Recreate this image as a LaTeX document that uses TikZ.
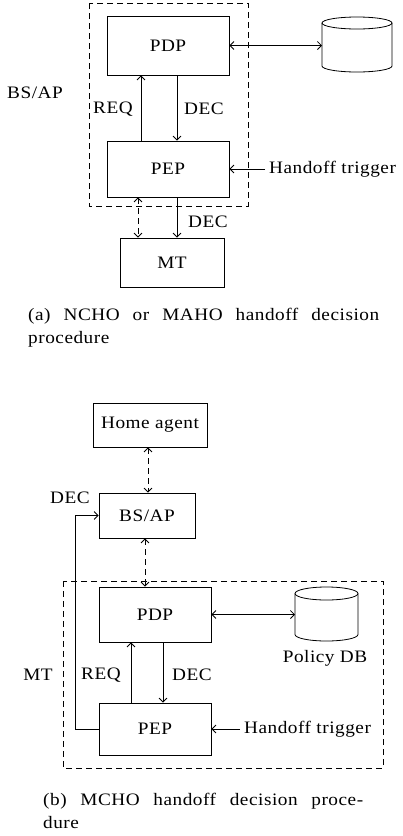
\documentclass[tikz,border=0pt]{standalone}
\usepackage{fontspec}
\setmainfont[FakeStretch=1.1,LetterSpace=3]{Liberation Serif}
\usetikzlibrary{arrows.meta}
% database drum: (centre x, top y, bottom y)(x radius:y radius)
\def\drum(#1,#2,#3)(#4:#5){\draw[line width=0.8pt] (#1,#2) ellipse [x radius=#4, y radius=#5];
  \draw[line width=0.8pt] (#1-#4,#2) -- (#1-#4,#3) arc[start angle=180, end angle=0, x radius=#4, y radius=#5] -- (#1+#4,#2);}

\tikzset{
  blk/.style={draw, line width=0.8pt, inner sep=0pt},
  lbl/.style={inner sep=1pt},
  arr/.style={line width=0.8pt, -{Straight Barb[length=4pt,width=8pt]}},
  darr/.style={line width=0.8pt, {Straight Barb[length=4pt,width=8pt]}-{Straight Barb[length=4pt,width=8pt]}},
  frame/.style={line width=0.8pt, dash pattern=on 6pt off 4pt},
}

\begin{document}
\begin{tikzpicture}[x=1pt, y=-1pt, font=\fontsize{17.5}{23}\selectfont]
  \useasboundingbox (0,0) rectangle (403,836);

  %%%%% (a) %%%%%
  \draw[frame] (89,3) rectangle (248,206);
  \node[blk, minimum width=122, minimum height=59] (pdpa) at (168,45.5) {PDP};
  \node[blk, minimum width=122, minimum height=56] (pepa) at (168,169) {PEP};
  \node[blk, minimum width=104, minimum height=49] (mta) at (172,262.5) {MT};
  \drum(357,23,66)(35:6)
  \coordinate (dba) at (322,45.5);

  \node[lbl] (bsapa) at (35,93) {BS/AP};
  \node[lbl] (reqa) at (113,109) {REQ};
  \node[lbl] (deca) at (204,109) {DEC};
  \node[lbl] (decma) at (208,222) {DEC};
  \node[lbl, anchor=west, inner sep=4pt] (triga) at (265,169) {Handoff trigger};

  \draw[darr] (pdpa.east) -- (dba);
  \draw[arr] ([xshift=-27pt]pepa.north) -- ([xshift=-27pt]pdpa.south);
  \draw[arr] ([xshift=9pt]pdpa.south) -- ([xshift=9pt]pepa.north);
  \draw[arr] (triga.west) -- (pepa.east);
  \draw[darr, frame] ([xshift=-30pt]pepa.south) -- ([xshift=-30pt]pepa.south |- mta.north);
  \draw[arr] ([xshift=9pt]pepa.south) -- ([xshift=9pt]pepa.south |- mta.north);

  \node[anchor=north west, inner sep=0pt, text width=351pt, align=justify] (capa) at (28,308)
    {(a) NCHO or MAHO handoff decision\linebreak procedure};

  %%%%% (b) %%%%%
  \node[blk, minimum width=114, minimum height=44] (ha) at (150,425) {Home agent};
  \node[blk, minimum width=96, minimum height=45] (bsap) at (147,515.5) {BS/AP};
  \draw[frame] (63,581) rectangle (383,768);
  \node[blk, minimum width=112, minimum height=55] (pdpb) at (155,614.5) {PDP};
  \node[blk, minimum width=112, minimum height=52] (pepb) at (155,729) {PEP};
  \drum(326.5,593.5,634.5)(31.5:6.5)
  \coordinate (dbb) at (295,614.5);

  \node[lbl] (polb) at (325,658) {Policy DB};
  \node[lbl] (mtb) at (38,675) {MT};
  \node[lbl] (reqb) at (101,675) {REQ};
  \node[lbl] (decb) at (192,675) {DEC};
  \node[lbl] (dectop) at (70,498) {DEC};
  \node[lbl, anchor=west, inner sep=4pt] (trigb) at (240,729) {Handoff trigger};

  \draw[darr, frame] ([xshift=-2pt]ha.south) -- ([xshift=-2pt]ha.south |- bsap.north);
  \draw[darr, frame] ([xshift=-2pt]bsap.south) -- ([xshift=-2pt]bsap.south |- pdpb.north);
  \draw[darr] (pdpb.east) -- (dbb);
  \draw[arr] ([xshift=-24pt]pepb.north) -- ([xshift=-24pt]pdpb.south);
  \draw[arr] ([xshift=8pt]pdpb.south) -- ([xshift=8pt]pepb.north);
  \draw[arr] (trigb.west) -- (pepb.east);
  \draw[arr] (pepb.west) -- ++(-23,0) |- (bsap.west);

  \node[anchor=north west, inner sep=0pt, text width=320pt, align=justify] (capb) at (43,793)
    {(b) MCHO handoff decision proce-\linebreak dure};
\end{tikzpicture}
\end{document}
